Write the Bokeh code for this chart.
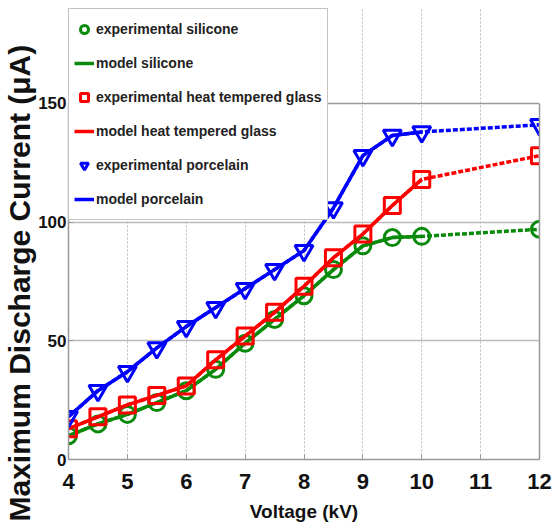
from bokeh.plotting import figure
from bokeh.models import Legend, LegendItem, FixedTicker, Range1d, Span, LinearAxis, Title
from bokeh.embed import file_html
from bokeh.resources import INLINE

# ---- data ----
voltage_exp = [4, 4.5, 5, 5.5, 6, 6.5, 7, 7.5, 8, 8.5, 9, 9.5, 10, 12]
silicone_exp = [10, 15, 19, 24, 29, 38, 49, 59, 69, 80, 90, 93.5, 94, 97]
glass_exp = [13, 18, 23, 27, 31, 42, 52, 62, 73, 85, 95, 107, 118, 128]
porcelain_exp = [18, 29, 37, 47, 56, 64, 72, 80, 88, 106, 128, 136.5, 138, 141]

voltage_model = [4, 4.5, 5, 5.5, 6, 6.5, 7, 7.5, 8, 8.5, 9, 9.5, 10]
silicone_model = [10, 15, 19, 24, 29, 38, 49, 59, 69, 80, 90, 93.5, 94]
glass_model = [13, 18, 23, 27, 31, 42, 52, 62, 73, 85, 95, 107, 118]
porcelain_model = [18, 29, 37, 47, 56, 64, 72, 80, 88, 106, 128, 136.5, 138]

x_ticks = [4, 5, 6, 7, 8, 9, 10, 11, 12]
y_ticks = [0, 50, 100, 150]
Y_MIN, Y_MAX = 0, 150

GREEN = "#0a8a0a"
RED = "#ff0000"
BLUE = "#0000ff"
FONT = "Liberation Sans"
BOX = "#999999"

# frame extends above the axes box so the legend can sit over its top edge
p = figure(width=554, height=532, output_backend="svg", toolbar_location=None,
           x_range=Range1d(4, 12), y_range=Range1d(Y_MIN, 190),
           min_border_left=20, min_border_right=15, min_border_top=8,
           min_border_bottom=73)
p.background_fill_color = "white"
p.outline_line_color = None

for ax in (p.xaxis[0], p.yaxis[0]):
    ax.major_label_text_font = FONT
    ax.major_label_text_font_style = "bold"
    ax.axis_label_text_font = FONT
    ax.axis_label_text_font_style = "bold"
    ax.axis_line_color = BOX
    ax.axis_line_width = 1.5
    ax.major_tick_in = 5
    ax.major_tick_out = 0
    ax.minor_tick_line_color = None
    ax.major_tick_line_color = BOX
    ax.axis_label_text_color = "#111111"
    ax.major_label_text_color = "#111111"

p.yaxis.bounds = (Y_MIN, Y_MAX)
p.xaxis.ticker = FixedTicker(ticks=x_ticks)
p.yaxis.ticker = FixedTicker(ticks=y_ticks)
p.xaxis.major_label_text_font_size = "22px"
p.yaxis.major_label_text_font_size = "17px"
p.xaxis.axis_label = "Voltage (kV)"
p.xaxis.axis_label_text_font_size = "19px"
p.xaxis.axis_label_standoff = 9
p.xaxis.major_label_standoff = 14
p.yaxis.major_label_standoff = 2

# y-axis title, starting below the frame bottom like the reference
ytitle = Title(text="Maximum Discharge Current (μA)", align="left",
               text_font=FONT, text_font_style="bold", text_font_size="30px",
               text_color="#111111", standoff=0, offset=-62)
p.add_layout(ytitle, "left")

# right side of the box
rax = LinearAxis(bounds=(Y_MIN, Y_MAX), ticker=FixedTicker(ticks=[]),
                 major_tick_in=0, major_tick_out=0,
                 minor_tick_line_color=None, axis_line_color=BOX, axis_line_width=1.5,
                 major_label_standoff=0)
p.add_layout(rax, "right")
# top of the box
p.add_layout(Span(location=Y_MAX, dimension="width", line_color=BOX, line_width=1.5))

p.xgrid.grid_line_color = "#bbbbbb"
p.xgrid.grid_line_dash = "2 2"
p.xgrid.bounds = (Y_MIN, Y_MAX)
p.ygrid.grid_line_color = "#bbbbbb"
p.ygrid.grid_line_width = 1.5
p.ygrid.ticker = FixedTicker(ticks=[50, 100])

items = []
series = [
    ("silicone", silicone_exp, silicone_model, GREEN, "circle"),
    ("heat tempered glass", glass_exp, glass_model, RED, "square"),
    ("porcelain", porcelain_exp, porcelain_model, BLUE, "inverted_triangle"),
]
for name, ye, ym, col, mk in series:
    lm = p.line(voltage_model, ym, line_color=col, line_width=3.5)
    p.line(voltage_exp, ye, line_color=col, line_width=3.5, line_dash="5 2")
    sz = 18 if mk == "inverted_triangle" else 16
    sc = p.scatter(voltage_exp, ye, marker=mk, size=sz, line_color=col,
                   line_width=3, fill_color=None)
    items.append(LegendItem(label="experimental " + name, renderers=[sc]))
    items.append(LegendItem(label="model " + name, renderers=[lm]))

legend = Legend(items=items, location=(0, 239))
legend.label_text_font = FONT
legend.label_text_font_style = "bold"
legend.label_text_font_size = "14px"
legend.label_text_color = "#222222"
legend.glyph_width = 20
legend.glyph_height = 30
legend.label_height = 30
legend.spacing = 4
legend.padding = 5
legend.margin = 0
legend.label_standoff = 2
legend.border_line_color = "#888888"
legend.border_line_width = 1.5
legend.background_fill_alpha = 1.0
p.add_layout(legend, "center")

open("out.html", "w").write(file_html(p, INLINE))
